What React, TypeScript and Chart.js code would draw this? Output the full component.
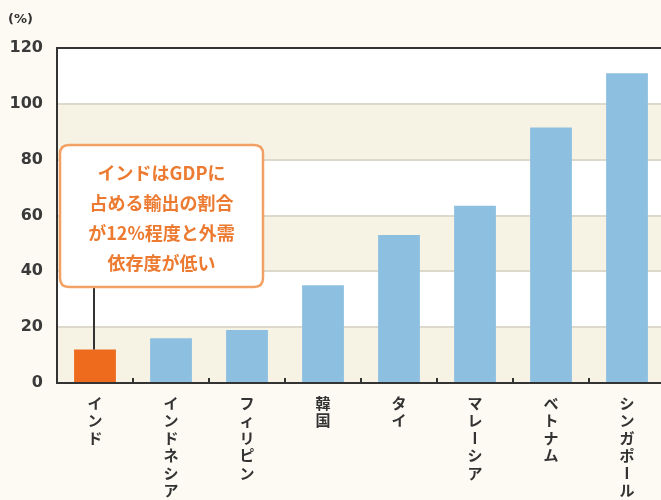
import React, { useEffect, useRef } from "react";
import { Chart, registerables } from "chart.js";

Chart.register(...registerables);

const categories = ["インド", "インドネシア", "フィリピン", "韓国", "タイ", "マレーシア", "ベトナム", "シンガポール"];
const exportShare = [12, 16, 19, 35, 53, 63.5, 91.5, 111];
const yTicks = [0, 20, 40, 60, 80, 100, 120];
const unitLabel = "(%)";
const noteLines = ["インドはGDPに", "占める輸出の割合", "が12%程度と外需", "依存度が低い"];

const ORANGE = "#EE6A1C";
const BLUE = "#8DC0E0";
const BG = "#FCFAF3";
const BAND = "#F6F3E4";
const GRID = "#DCD8CC";
const DARK = "#333333";

const W = 680;
const H = 520;

export default function App() {
  const ref = useRef<HTMLCanvasElement | null>(null);

  useEffect(() => {
    if (!ref.current) return;
    const decor = {
      id: "decor",
      beforeDraw(chart: any) {
        const { ctx, chartArea, scales } = chart;
        ctx.save();
        ctx.fillStyle = BG;
        ctx.fillRect(0, 0, chart.width, chart.height);
        const y = scales.y;
        for (let i = 0; i < yTicks.length - 1; i++) {
          const top = y.getPixelForValue(yTicks[i + 1]);
          const bot = y.getPixelForValue(yTicks[i]);
          ctx.fillStyle = i % 2 === 0 ? BAND : "#FFFFFF";
          ctx.fillRect(chartArea.left, top, chartArea.right - chartArea.left, bot - top);
        }
        ctx.restore();
      },
      afterDatasetsDraw(chart: any) {
        const { ctx, chartArea, scales } = chart;
        const x = scales.x;
        ctx.save();
        // top frame
        ctx.strokeStyle = DARK;
        ctx.lineWidth = 2;
        ctx.beginPath();
        ctx.moveTo(chartArea.left - 1, chartArea.top);
        ctx.lineTo(chartArea.right, chartArea.top);
        ctx.stroke();
        // tick marks between categories
        ctx.lineWidth = 2;
        for (let i = 1; i < categories.length; i++) {
          const px = (x.getPixelForValue(i - 1) + x.getPixelForValue(i)) / 2;
          ctx.beginPath();
          ctx.moveTo(px, chartArea.bottom);
          ctx.lineTo(px, chartArea.bottom - 5);
          ctx.stroke();
        }
        // annotation connector
        const bar = chart.getDatasetMeta(0).data[0];
        const boxL = 60, boxT = 145, boxR = 263, boxB = 287;
        ctx.strokeStyle = DARK;
        ctx.lineWidth = 2;
        ctx.beginPath();
        ctx.moveTo(bar.x - 1, boxB);
        ctx.lineTo(bar.x - 1, bar.y);
        ctx.stroke();
        // annotation box
        const r = 9;
        ctx.beginPath();
        ctx.moveTo(boxL + r, boxT);
        ctx.lineTo(boxR - r, boxT);
        ctx.quadraticCurveTo(boxR, boxT, boxR, boxT + r);
        ctx.lineTo(boxR, boxB - r);
        ctx.quadraticCurveTo(boxR, boxB, boxR - r, boxB);
        ctx.lineTo(boxL + r, boxB);
        ctx.quadraticCurveTo(boxL, boxB, boxL, boxB - r);
        ctx.lineTo(boxL, boxT + r);
        ctx.quadraticCurveTo(boxL, boxT, boxL + r, boxT);
        ctx.closePath();
        ctx.fillStyle = "#FFFFFF";
        ctx.fill();
        ctx.strokeStyle = "#F2A064";
        ctx.lineWidth = 2.5;
        ctx.stroke();
        ctx.fillStyle = "#EC7A30";
        ctx.font = "bold 18px 'Noto Sans CJK JP'";
        ctx.textAlign = "center";
        ctx.textBaseline = "middle";
        const cx = (boxL + boxR) / 2;
        noteLines.forEach((line, i) => {
          ctx.fillText(line, cx, 173 + i * 30);
        });
        // vertical category labels
        ctx.fillStyle = DARK;
        ctx.font = "bold 15px 'Noto Sans CJK JP'";
        categories.forEach((label, i) => {
          const px = x.getPixelForValue(i);
          const chars = Array.from(label);
          chars.forEach((ch, j) => {
            const cy = chartArea.bottom + 20 + j * 17.5;
            if (ch === "ー") {
              ctx.save();
              ctx.translate(px, cy);
              ctx.rotate(Math.PI / 2);
              ctx.fillText(ch, 0, 0);
              ctx.restore();
            } else {
              ctx.fillText(ch, px, cy);
            }
          });
        });
        // unit label
        ctx.font = "bold 13px 'DejaVu Sans'";
        ctx.fillStyle = DARK;
        ctx.textAlign = "left";
        ctx.fillText(unitLabel, 8, 20);
        ctx.restore();
      },
    };

    const chart = new Chart(ref.current, {
      type: "bar",
      data: {
        labels: categories,
        datasets: [
          {
            data: exportShare,
            backgroundColor: categories.map((_, i) => (i === 0 ? ORANGE : BLUE)),
            categoryPercentage: 1,
            barPercentage: 0.55,
          },
        ],
      },
      options: {
        responsive: false,
        animation: false,
        events: [],
        layout: { padding: { top: 48, right: 15, left: 0, bottom: 0 } },
        plugins: { legend: { display: false }, tooltip: { enabled: false } },
        scales: {
          x: {
            type: "category",
            offset: true,
            grid: { display: false },
            border: { display: true, color: DARK, width: 2 },
            ticks: { display: false },
            afterFit: (s: any) => {
              s.height = H - 383;
            },
          },
          y: {
            min: 0,
            max: 120,
            afterBuildTicks: (s: any) => {
              s.ticks = yTicks.map((v) => ({ value: v }));
            },
            grid: {
              drawTicks: false,
              lineWidth: 2,
              color: (c: any) => (c.tick && (c.tick.value === 0 || c.tick.value === 120) ? "rgba(0,0,0,0)" : GRID),
            },
            border: { display: true, color: DARK, width: 2 },
            ticks: {
              padding: 14,
              color: "#3A3A3A",
              font: { family: "'DejaVu Sans'", size: 16, weight: "bold" },
            },
            afterFit: (s: any) => {
              s.width = 57;
            },
          },
        },
      },
      plugins: [decor],
    } as any);
    return () => chart.destroy();
  }, []);

  return (
    <div style={{ position: "fixed", left: 0, top: 0, width: 661, height: 500, overflow: "hidden", background: BG }}>
      <canvas ref={ref} width={W} height={H} style={{ width: W, height: H, display: "block" }} />
    </div>
  );
}
